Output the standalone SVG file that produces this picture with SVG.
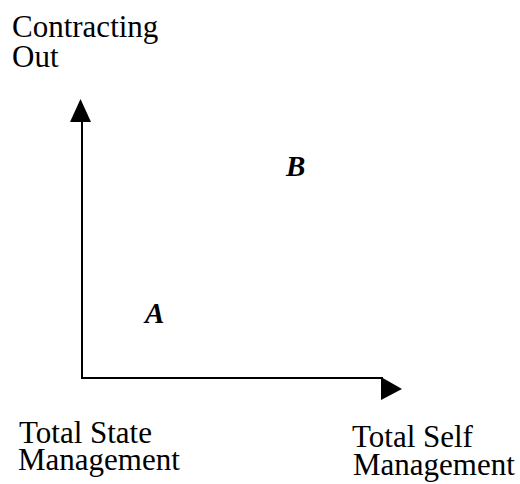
<svg xmlns="http://www.w3.org/2000/svg" width="520" height="484" viewBox="0 0 520 484">
<style>
text{font-family:'Liberation Serif','Times New Roman',serif;fill:#000}
.lbl{font-size:31px}
.pt{font-size:29px;font-weight:bold;font-style:italic}
.ax{stroke:#000;stroke-width:2;fill:none}
</style>
<rect width="520" height="484" fill="#fff"/>
<g id="connectors">
<line class="ax" x1="82" y1="120" x2="82" y2="379"/>
<polygon points="80.5,99 70,122 91,122" fill="#000"/>
<line class="ax" x1="81" y1="378" x2="383" y2="378"/>
<polygon points="381,377 381,400 402,389" fill="#000"/>
</g>
<g id="y-label">
<text class="lbl" x="12" y="37">Contracting</text>
<text class="lbl" x="12" y="66.5">Out</text>
</g>
<g id="x-origin-label">
<text class="lbl" x="19" y="443">Total State</text>
<text class="lbl" x="18" y="470">Management</text>
</g>
<g id="x-end-label">
<text class="lbl" x="352" y="447">Total Self</text>
<text class="lbl" x="353" y="475">Management</text>
</g>
<g id="point-A"><text class="pt" x="145" y="323">A</text></g>
<g id="point-B"><text class="pt" x="286" y="176">B</text></g>
</svg>
